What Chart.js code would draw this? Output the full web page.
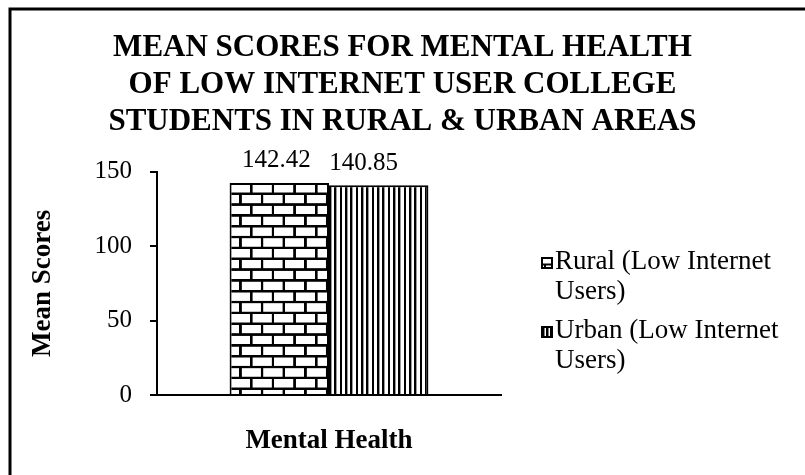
<!DOCTYPE html>
<html>
<head>
<meta charset="utf-8">
<script src="https://cdn.jsdelivr.net/npm/chart.js@4"></script>
<style>
  html, body { margin: 0; padding: 0; background: #fff; }
  #wrap { width: 805px; height: 475px; position: relative; }
</style>
</head>
<body>
<div id="wrap"><canvas id="c"></canvas></div>
<script>
// ---- data ----
const categories = ['Mental Health'];
const seriesNames = ['Rural (Low Internet Users)', 'Urban (Low Internet Users)'];
const ruralValues = [142.42];
const urbanValues = [140.85];
const yTickValues = [0, 50, 100, 150];
const titleLines = ['MEAN SCORES FOR MENTAL HEALTH', 'OF LOW INTERNET USER COLLEGE', 'STUDENTS IN RURAL & URBAN AREAS'];
const yAxisTitle = 'Mean Scores';

const SERIF = '"Liberation Serif", "Times New Roman", Times, serif';

// ---- patterns ----
function makeBrickPattern() {
  const c = document.createElement('canvas');
  c.width = 130; c.height = 65;
  const g = c.getContext('2d');
  g.fillStyle = '#fff'; g.fillRect(0, 0, 130, 65);
  g.fillStyle = '#000';
  const t = 7.5;
  // row A
  g.fillRect(0, 0, 130, t / 2); g.fillRect(0, 65 - t / 2, 130, t / 2);
  g.fillRect(0, 0, t / 2, 32.5); g.fillRect(130 - t / 2, 0, t / 2, 32.5);
  g.fillRect(65 - t / 2, 0, t, 32.5);
  // row B
  g.fillRect(0, 32.5 - t / 2, 130, t);
  g.fillRect(32.5 - t / 2, 32.5, t, 32.5);
  g.fillRect(97.5 - t / 2, 32.5, t, 32.5);
  return document.createElement('canvas').getContext('2d').createPattern(c, 'repeat');
}
function makeStripePattern() {
  const c = document.createElement('canvas');
  c.width = 16; c.height = 16;
  const g = c.getContext('2d');
  g.fillStyle = '#fff'; g.fillRect(0, 0, 16, 16);
  g.fillStyle = '#000'; g.fillRect(0, 0, 6, 16);
  g.fillStyle = '#999'; g.fillRect(6, 0, 2, 16);
  return document.createElement('canvas').getContext('2d').createPattern(c, 'repeat');
}
const brick = makeBrickPattern();
const stripes = makeStripePattern();
const patterns = [brick, stripes];

// ---- plugins ----
const frame = {
  id: 'frame',
  beforeDraw(chart) {
    const ctx = chart.ctx;
    ctx.save();
    ctx.fillStyle = '#fff';
    ctx.fillRect(0, 0, chart.width, chart.height);
    ctx.strokeStyle = '#000';
    ctx.lineWidth = 3;
    ctx.beginPath();
    ctx.moveTo(10, chart.height + 5);
    ctx.lineTo(10, 9);
    ctx.lineTo(chart.width + 5, 9);
    ctx.stroke();
    ctx.restore();
  }
};

const patternAlign = {
  id: 'patternAlign',
  beforeDatasetsDraw(chart) {
    chart.data.datasets.forEach((ds, i) => {
      const el = chart.getDatasetMeta(i).data[0];
      if (!el) return;
      const left = el.x - el.width / 2;
      patterns[i].setTransform(new DOMMatrix().translate(left, el.y).scale(1 / 3));
    });
  }
};

const valueLabels = {
  id: 'valueLabels',
  afterDatasetsDraw(chart, args, opts) {
    const ctx = chart.ctx;
    ctx.save();
    ctx.font = opts.font;
    ctx.fillStyle = '#000';
    ctx.textAlign = 'center';
    ctx.textBaseline = 'middle';
    chart.data.datasets.forEach((ds, i) => {
      chart.getDatasetMeta(i).data.forEach((el, j) => {
        const v = ds.data[j];
        ctx.fillText(v.toFixed(2), el.x + (opts.dx[i] || 0), el.y - opts.gap);
      });
    });
    ctx.restore();
  }
};

function wrapText(ctx, text, maxWidth) {
  const words = text.split(' ');
  const lines = [];
  let cur = '';
  words.forEach(w => {
    const test = cur ? cur + ' ' + w : w;
    if (ctx.measureText(test).width > maxWidth && cur) { lines.push(cur); cur = w; }
    else cur = test;
  });
  if (cur) lines.push(cur);
  return lines;
}

const wrapLegend = {
  id: 'wrapLegend',
  afterDraw(chart, args, opts) {
    const ctx = chart.ctx;
    ctx.save();
    ctx.font = opts.font;
    ctx.fillStyle = '#000';
    ctx.textAlign = 'left';
    ctx.textBaseline = 'alphabetic';
    let y = opts.top;
    chart.data.datasets.forEach((ds, i) => {
      const lines = wrapText(ctx, ds.label, opts.maxWidth);
      const mx = opts.markerX, my = y - 12, s = 12;
      ctx.save();
      if (i === 0) {
        ctx.fillStyle = '#fff'; ctx.fillRect(mx, my, s, s);
        ctx.strokeStyle = '#000'; ctx.lineWidth = 2;
        ctx.strokeRect(mx + 1, my + 1, s - 2, s - 2);
        ctx.beginPath();
        ctx.moveTo(mx, my + 7.5); ctx.lineTo(mx + s, my + 7.5);
        ctx.moveTo(mx + 4, my + 7.5); ctx.lineTo(mx + 4, my + s);
        ctx.stroke();
      } else {
        ctx.fillStyle = '#000'; ctx.fillRect(mx, my, s, s);
        ctx.fillStyle = '#fff';
        ctx.fillRect(mx + 3.5, my + 2, 1.5, s - 4);
        ctx.fillRect(mx + 7.5, my + 2, 1.5, s - 4);
      }
      ctx.restore();
      lines.forEach((ln, j) => ctx.fillText(ln, opts.textX, y + j * opts.lineHeight));
      y += opts.itemSpacing;
    });
    ctx.restore();
  }
};

// ---- chart ----
new Chart(document.getElementById('c'), {
  type: 'bar',
  data: {
    labels: categories,
    datasets: [
      { label: seriesNames[0], data: ruralValues, backgroundColor: brick, borderColor: '#000', borderWidth: 2,
        categoryPercentage: 0.578, barPercentage: 1 },
      { label: seriesNames[1], data: urbanValues, backgroundColor: stripes, borderColor: '#000', borderWidth: 2,
        categoryPercentage: 0.578, barPercentage: 1 }
    ]
  },
  options: {
    responsive: true,
    maintainAspectRatio: false,
    animation: false,
    devicePixelRatio: 1,
    layout: { padding: { left: 0, right: 0, top: 0, bottom: 0 } },
    plugins: {
      legend: { display: false },
      tooltip: { enabled: false },
      title: {
        display: true,
        text: titleLines,
        color: '#000',
        font: { family: SERIF, size: 31, weight: 'bold', lineHeight: 1.2 },
        padding: { top: 29, bottom: 31 }
      },
      valueLabels: { font: '25px ' + SERIF, gap: 22, dx: [-3, -15] },
      wrapLegend: { font: '27px ' + SERIF, top: 269, lineHeight: 30, itemSpacing: 69, markerX: 541, textX: 555, maxWidth: 235 }
    },
    scales: {
      x: {
        grid: { display: false },
        border: { display: true, color: '#000', width: 2 },
        ticks: { color: '#000', font: { family: SERIF, size: 27, weight: 'bold', lineHeight: 1.2 }, padding: 22 },
        afterFit(s) { s.height = 80; }
      },
      y: {
        min: 0, max: 150,
        afterBuildTicks(s) { s.ticks = yTickValues.map(v => ({ value: v })); },
        grid: { display: true, drawOnChartArea: false, drawTicks: true, tickLength: 7, color: '#000', lineWidth: 2 },
        border: { display: true, color: '#000', width: 2 },
        ticks: { color: '#000', font: { family: SERIF, size: 25 }, padding: 18 },
        title: {
          display: true, text: yAxisTitle, color: '#000',
          font: { family: SERIF, size: 27, weight: 'bold', lineHeight: 1.2 },
          padding: { top: 27, bottom: 0 }
        },
        afterFit(s) { s.width = 157; }
      },
      legendSpace: {
        type: 'linear', position: 'right', display: true,
        grid: { display: false }, border: { display: false }, ticks: { display: false },
        afterFit(s) { s.width = 304; }
      }
    }
  },
  plugins: [frame, patternAlign, valueLabels, wrapLegend]
});
</script>
</body>
</html>
